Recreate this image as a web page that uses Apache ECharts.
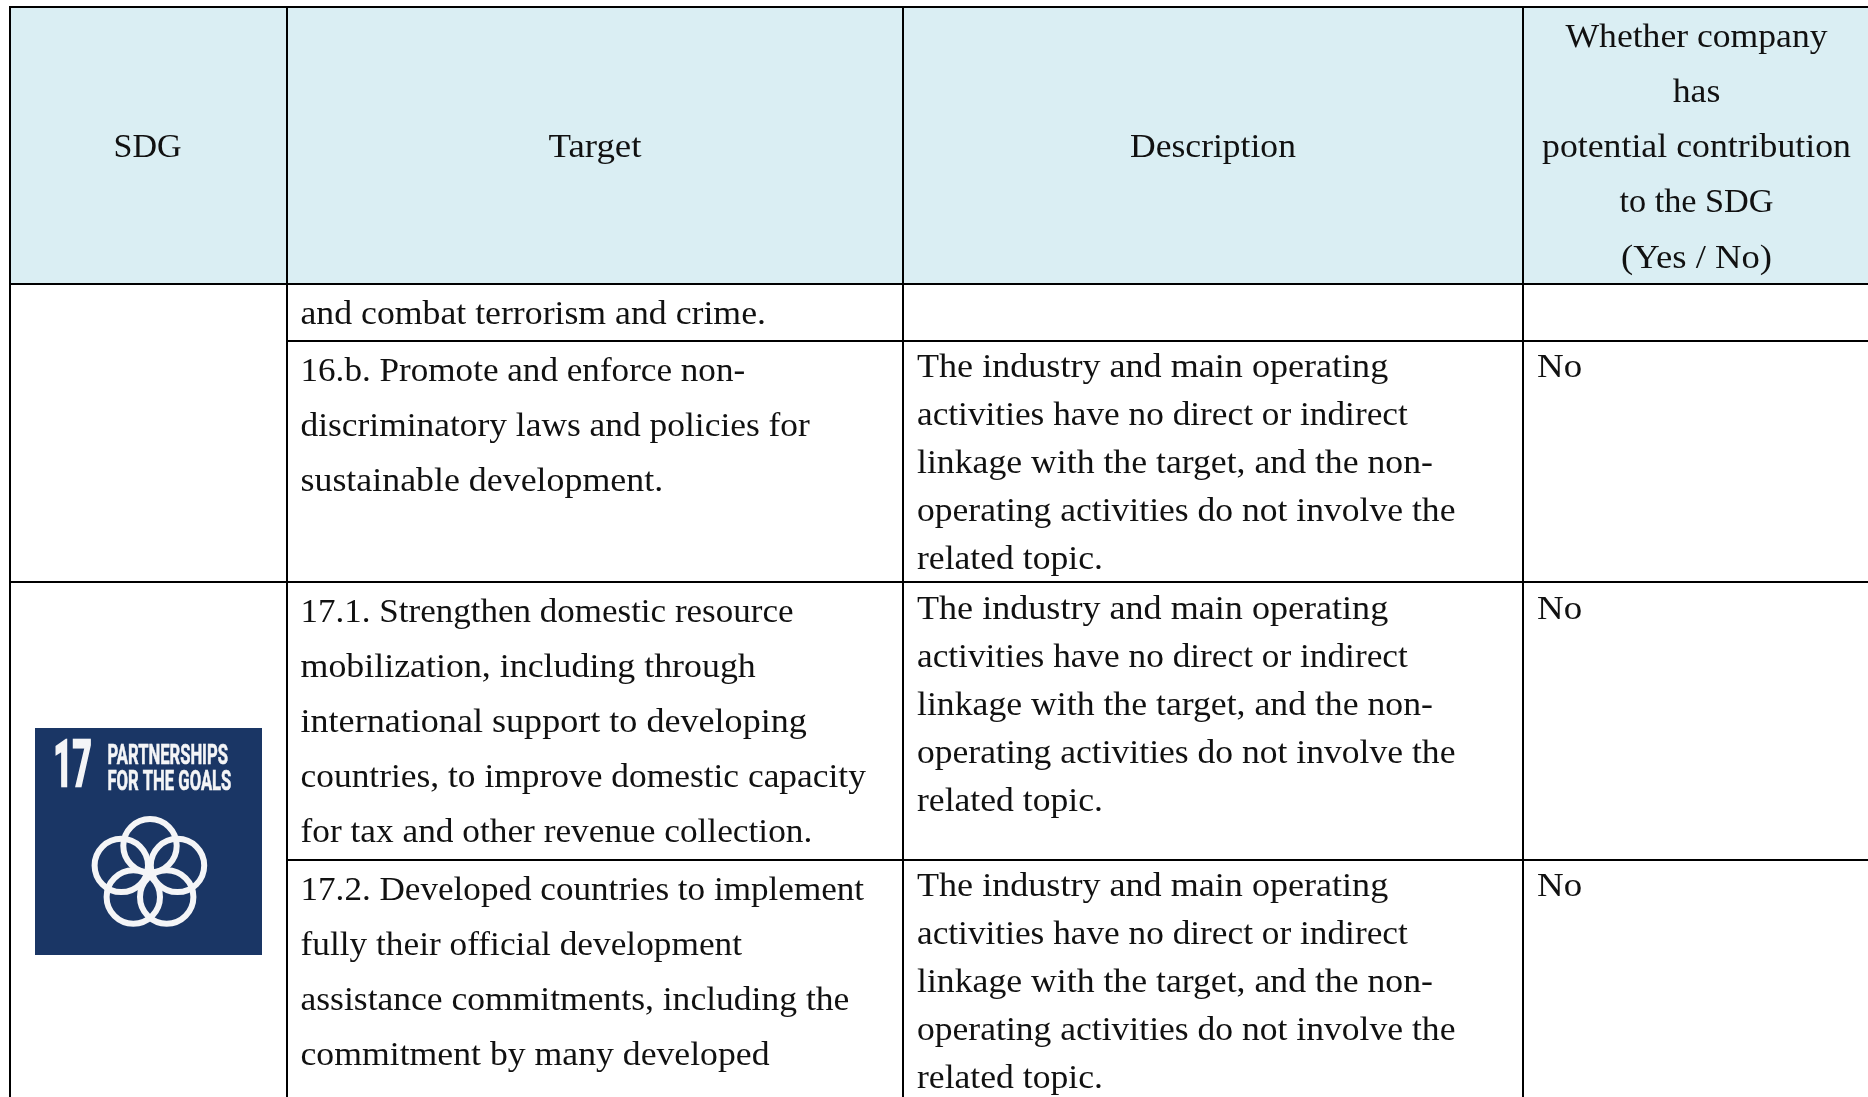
<!DOCTYPE html>
<html>
<head>
<meta charset="utf-8">
<style>html,body{margin:0;padding:0;background:#fff}#c{width:1868px;height:1097px}</style>
<script src="https://cdn.jsdelivr.net/npm/echarts@6/dist/echarts.min.js"></script>
</head>
<body>
<div id="c"></div>
<script>
// ---- table content ----
var headerSDG = ['SDG'];
var headerTarget = ['Target'];
var headerDescription = ['Description'];
var headerAnswer = ['Whether company', 'has', 'potential contribution', 'to the SDG', '(Yes / No)'];
var targetRow0 = ['and combat terrorism and crime.'];
var targetRow1 = ['16.b. Promote and enforce non-', 'discriminatory laws and policies for', 'sustainable development.'];
var targetRow2 = ['17.1. Strengthen domestic resource', 'mobilization, including through', 'international support to developing', 'countries, to improve domestic capacity', 'for tax and other revenue collection.'];
var targetRow3 = ['17.2. Developed countries to implement', 'fully their official development', 'assistance commitments, including the', 'commitment by many developed'];
var descriptionLines = ['The industry and main operating', 'activities have no direct or indirect', 'linkage with the target, and the non-', 'operating activities do not involve the', 'related topic.'];
var answers = ['No', 'No', 'No'];
var logoNumber = '17';
var logoTitle = ['PARTNERSHIPS', 'FOR THE GOALS'];

// ---- layout of the table on a page-sized hidden scale ----
var PAGE_W = 1868, PAGE_H = 1097;
var columnEdges = [10, 287, 903, 1523, PAGE_W];
var rowEdges = [7, 284, 341, 582, 860, PAGE_H];
var TEXT_FONT = '"Liberation Serif", serif';
var TEXT_COLOR = '#111111';
var FONT_SIZE = 33;
var HEADER_BG = '#DAEEF3';
var LOGO_BG = '#1A3665';
var LOGO_INK = '#F4F5F7';

// per-line horizontal stretch, so the substitute serif fills each reference line
var stretchAnswerHead = [1.079, 1.084, 1.084, 1.038, 1.11];
var stretchRow0 = [1.083];
var stretchRow1 = [1.064, 1.073, 1.087];
var stretchRow2 = [1.061, 1.087, 1.094, 1.073, 1.07];
var stretchRow3 = [1.064, 1.07, 1.077, 1.082];
var stretchDesc = [1.094, 1.069, 1.082, 1.078, 1.079];

// table cell fills and rules: [x1, y1, x2, y2]
var fills = [[columnEdges[0], rowEdges[0], PAGE_W, rowEdges[1]]];
var rules = [
  [columnEdges[0], rowEdges[0], PAGE_W, rowEdges[0]],
  [columnEdges[0], rowEdges[1], PAGE_W, rowEdges[1]],
  [columnEdges[1], rowEdges[2], PAGE_W, rowEdges[2]],
  [columnEdges[0], rowEdges[3], PAGE_W, rowEdges[3]],
  [columnEdges[1], rowEdges[4], PAGE_W, rowEdges[4]],
  [columnEdges[0], rowEdges[0], columnEdges[0], PAGE_H],
  [columnEdges[1], rowEdges[0], columnEdges[1], PAGE_H],
  [columnEdges[2], rowEdges[0], columnEdges[2], PAGE_H],
  [columnEdges[3], rowEdges[0], columnEdges[3], PAGE_H]
];

// text rows: [x, y, text, align, stretch]
var texts = [];
function addBlock(lines, x, y0, pitch, align, stretch) {
  lines.forEach(function (t, i) { texts.push([x, y0 + i * pitch, t, align, stretch[i]]); });
}
var colCenter = function (i) { return (columnEdges[i] + columnEdges[i + 1]) / 2; };
var HEADER_MID = 148.5, HEADER_PITCH = 55.2, TARGET_PITCH = 55, DESC_PITCH = 48;
var TARGET_X = 300.5, DESC_X = 917, ANSWER_X = 1537;
addBlock(headerSDG, colCenter(0) - 1, HEADER_MID, HEADER_PITCH, 'center', [1.03]);
addBlock(headerTarget, colCenter(1), HEADER_MID, HEADER_PITCH, 'center', [1.117]);
addBlock(headerDescription, colCenter(2), HEADER_MID, HEADER_PITCH, 'center', [1.077]);
addBlock(headerAnswer, 1696.5, HEADER_MID - 2 * HEADER_PITCH, HEADER_PITCH, 'center', stretchAnswerHead);
addBlock(targetRow0, TARGET_X, 315, TARGET_PITCH, 'left', stretchRow0);
addBlock(targetRow1, TARGET_X, 372, TARGET_PITCH, 'left', stretchRow1);
addBlock(targetRow2, TARGET_X, 613, TARGET_PITCH, 'left', stretchRow2);
addBlock(targetRow3, TARGET_X, 891, TARGET_PITCH, 'left', stretchRow3);
addBlock(descriptionLines, DESC_X, 368, DESC_PITCH, 'left', stretchDesc);
addBlock(descriptionLines, DESC_X, 610, DESC_PITCH, 'left', stretchDesc);
addBlock(descriptionLines, DESC_X, 887, DESC_PITCH, 'left', stretchDesc);
addBlock([answers[0]], ANSWER_X, 368, DESC_PITCH, 'left', [1.118]);
addBlock([answers[1]], ANSWER_X, 610, DESC_PITCH, 'left', [1.118]);
addBlock([answers[2]], ANSWER_X, 887, DESC_PITCH, 'left', [1.118]);

// logo geometry
var logoBox = [35, 728, 262, 955];
var logoRings = [[150, 845.7], [121.3, 865.4], [177.5, 865.4], [133.3, 897], [166.7, 897]];

var chart = echarts.init(document.getElementById('c'), null, { renderer: 'canvas' });

function rectItem(params, api) {
  var a = api.coord([api.value(0), api.value(1)]);
  var b = api.coord([api.value(2), api.value(3)]);
  return { type: 'rect', shape: { x: a[0], y: a[1], width: b[0] - a[0], height: b[1] - a[1] },
           style: { fill: HEADER_BG } };
}
function ruleItem(params, api) {
  var a = api.coord([api.value(0), api.value(1)]);
  var b = api.coord([api.value(2), api.value(3)]);
  return { type: 'line', shape: { x1: a[0], y1: a[1], x2: b[0], y2: b[1] },
           style: { stroke: '#000000', lineWidth: 2, lineCap: 'square' } };
}
function textItem(params, api) {
  var p = api.coord([api.value(0), api.value(1)]);
  var row = texts[params.dataIndex];
  return { type: 'text', x: p[0], y: p[1], scaleX: row[4],
           style: { x: 0, y: 0, text: row[2], align: row[3],
                    verticalAlign: 'middle', fill: TEXT_COLOR,
                    font: FONT_SIZE + 'px ' + TEXT_FONT } };
}
function logoItem(params, api) {
  var a = api.coord([logoBox[0], logoBox[1]]);
  var b = api.coord([logoBox[2], logoBox[3]]);
  var kids = [{ type: 'rect', shape: { x: a[0], y: a[1], width: b[0] - a[0], height: b[1] - a[1] },
                style: { fill: LOGO_BG } }];
  logoRings.forEach(function (r) {
    var c = api.coord(r);
    kids.push({ type: 'circle', shape: { cx: c[0], cy: c[1], r: 26.7 },
                style: { fill: 'none', stroke: LOGO_INK, lineWidth: 6 } });
  });
  var logoFont = 'Roboto, sans-serif';
  var n = api.coord([53.5, 770]);
  kids.push({ type: 'text', x: n[0], y: n[1], scaleX: 0.52,
              style: { x: 0, y: 0, text: logoNumber, verticalAlign: 'middle', fill: LOGO_INK,
                       stroke: LOGO_INK, lineWidth: 2.5,
                       font: 'bold 64px ' + logoFont } });
  logoTitle.forEach(function (t, i) {
    var q = api.coord([107.5, 757 + i * 26.5]);
    kids.push({ type: 'text', x: q[0], y: q[1], scaleX: 0.615,
                style: { x: 0, y: 0, text: t, verticalAlign: 'middle', fill: LOGO_INK,
                         stroke: LOGO_INK, lineWidth: 0.6,
                         font: 'bold 27px ' + logoFont } });
  });
  return { type: 'group', children: kids };
}

chart.setOption({
  animation: false,
  backgroundColor: '#ffffff',
  tooltip: { show: false },
  grid: { left: 0, right: 0, top: 0, bottom: 0 },
  xAxis: { type: 'value', min: 0, max: PAGE_W, show: false },
  yAxis: { type: 'value', min: 0, max: PAGE_H, inverse: true, show: false },
  series: [
    { type: 'custom', name: 'fills', renderItem: rectItem, data: fills, silent: true, clip: false, z: 1 },
    { type: 'custom', name: 'logo', renderItem: logoItem, data: [[0]], silent: true, clip: false, z: 2 },
    { type: 'custom', name: 'rules', renderItem: ruleItem, data: rules, silent: true, clip: false, z: 3 },
    { type: 'custom', name: 'cells', renderItem: textItem,
      data: texts.map(function (t) { return [t[0], t[1]]; }), silent: true, clip: false, z: 4 }
  ]
});
</script>
</body>
</html>
